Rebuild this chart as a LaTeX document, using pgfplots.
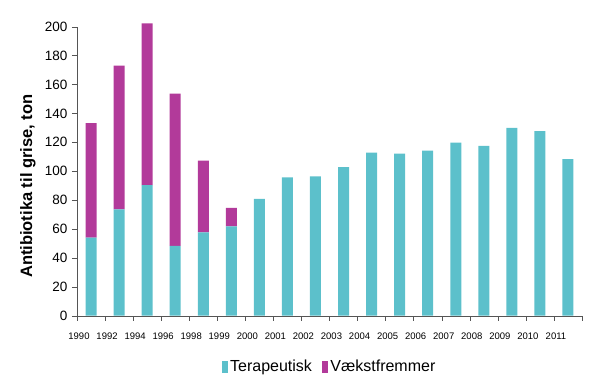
\documentclass[border=0pt]{standalone}
\usepackage{pgfplots}
\usepackage{pgfplotstable}
\pgfplotsset{compat=1.18}
\usepackage{fontspec}
\setmainfont{Liberation Sans}
\definecolor{terap}{HTML}{5CC0CB}
\definecolor{vaekst}{HTML}{B23A9A}
\definecolor{axgray}{HTML}{555555}
\pgfplotstableread{
x t v
0 54.0 79.3
1 73.6 99.4
2 90.4 111.9
3 48.4 105.2
4 57.7 49.6
5 61.9 12.8
6 80.8 0
7 95.8 0
8 96.5 0
9 102.9 0
10 112.8 0
11 112.1 0
12 114.2 0
13 119.7 0
14 117.6 0
15 129.9 0
16 127.8 0
17 108.4 0
}\data
\begin{document}
\begin{tikzpicture}
\begin{axis}[
  width=505pt, height=289pt, scale only axis,
  ybar stacked, bar width=11pt,
  xmin=-0.5, xmax=17.5, ymin=0, ymax=200,
  clip=false,
  axis x line*=bottom, axis y line*=left,
  axis line style={axgray,-},
  xtick={-0.5,0.5,...,17.5},
  xticklabels={1990,1992,1994,1996,1998,1999,2000,2001,2002,2003,2004,2005,2006,2007,2008,2009,2010,2011,{}},
  ytick={0,20,...,200},
  tick align=outside, major tick length=5pt,
  tick style={axgray, thin},
  /pgf/number format/assume math mode=true,
  yticklabel style={font=\fontsize{13.5}{15}\selectfont, xshift=-1pt},
  xticklabel style={font=\fontsize{9.5}{10}\selectfont, xshift=2pt, yshift=-9pt},
  legend style={at={(0.5,-0.14)}, anchor=north, draw=none, fill=none,
    font=\fontsize{16}{18}\selectfont, legend columns=2,
    /tikz/every even column/.append style={column sep=8pt}},
  legend image code/.code={\fill[#1] (0pt,-6pt) rectangle (6.5pt,6pt);},
  legend cell align=left,
]
\addplot[fill=terap, draw=none] table[x=x, y=t] {\data};
\addlegendentry{Terapeutisk}
\addplot[fill=vaekst, draw=none] table[x=x, y=v] {\data};
\addlegendentry{Vækstfremmer}
\coordinate (O) at (rel axis cs:0,0);
\coordinate (M) at (rel axis cs:0,0.5);
\end{axis}
\node[rotate=90, font=\bfseries\fontsize{16.5}{18}\selectfont] at ([shift={(-49pt,-15pt)}]M) {Antibiotika til grise, ton};
\pgfresetboundingbox
\path[use as bounding box] ([shift={(-77pt,-65.3pt)}]O) rectangle ([shift={(515pt,315.7pt)}]O);
\end{tikzpicture}
\end{document}
